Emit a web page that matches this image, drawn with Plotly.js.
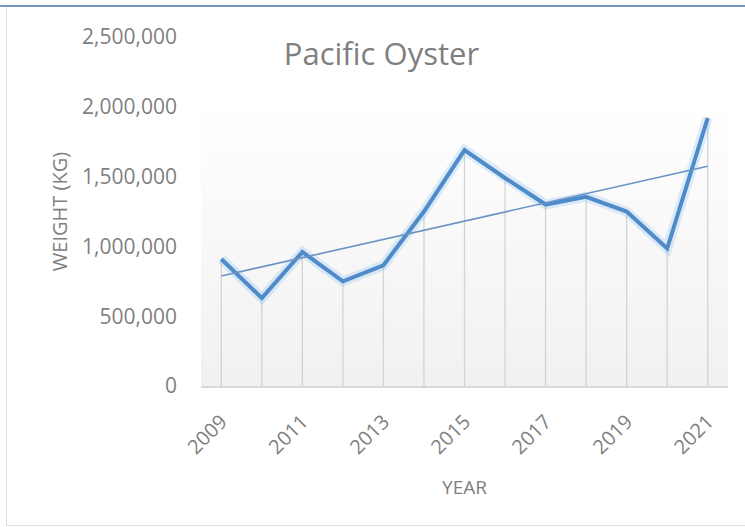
<!DOCTYPE html>
<html>
<head>
<meta charset="utf-8">
<script src="https://cdn.plot.ly/plotly-3.0.1.min.js"></script>
<style>
  body { margin: 0; background: #ffffff; }
  #wrap { position: relative; width: 745px; height: 527px; overflow: hidden; }
  #topbar { position: absolute; left: 0; top: 5px; width: 745px; height: 2px; background: #7896bd; }
  #frame { position: absolute; left: 6px; top: 7px; width: 745px; height: 518px;
           border-left: 1px solid #dcdcdc; border-bottom: 1px solid #e2e2e2; }
  #plotbg { position: absolute; left: 201px; top: 37px; width: 527px; height: 349px;
            background: linear-gradient(to bottom, #ffffff 0%, #ffffff 18%, #f1f1f1 100%); }
  #plotDiv { position: absolute; left: 0; top: 0; width: 745px; height: 527px; }
</style>
</head>
<body>
<div id="wrap">
  <div id="topbar"></div>
  <div id="frame"></div>
  <div id="plotbg"></div>
  <div id="plotDiv"></div>
</div>
<script>
// Pacific oyster harvest weight per year (kg)
const years = [2009, 2010, 2011, 2012, 2013, 2014, 2015, 2016, 2017, 2018, 2019, 2020, 2021];
const weights = [910000, 630000, 960000, 750000, 865000, 1250000, 1690000,
                 1490000, 1300000, 1355000, 1250000, 985000, 1920000];
const yTicks = [0, 500000, 1000000, 1500000, 2000000, 2500000];
const xTicks = [2009, 2011, 2013, 2015, 2017, 2019, 2021];

// Linear trendline (least squares), like Excel's
function linearFit(xs, ys) {
  let n = xs.length;
  let mx = xs.reduce((a, b) => a + b, 0) / n;
  let my = ys.reduce((a, b) => a + b, 0) / n;
  let sxy = 0, sxx = 0;
  for (let i = 0; i < n; i++) {
    sxy += (xs[i] - mx) * (ys[i] - my);
    sxx += (xs[i] - mx) ** 2;
  }
  let slope = sxy / sxx;
  return xs.map((x) => my + slope * (x - mx));
}
const trend = linearFit(years, weights);

const lineBlue = "#4f8bc9";
const grayText = "#7f7f7f";
const font = "'Open Sans', sans-serif";

let traces = [
  // drop lines from each point to the axis
  {
    x: years,
    y: weights,
    type: "scatter",
    mode: "markers",
    marker: { size: 1, opacity: 0 },
    error_y: {
      type: "data",
      symmetric: false,
      array: weights.map(() => 0),
      arrayminus: weights,
      width: 0,
      thickness: 1.3,
      color: "#d3d3d3",
    },
    hoverinfo: "skip",
    showlegend: false,
  },
  // soft glow behind the series line
  {
    x: years,
    y: weights,
    type: "scatter",
    mode: "lines",
    line: { color: "rgba(120,185,240,0.25)", width: 10 },
    hoverinfo: "skip",
    showlegend: false,
  },
  {
    x: years,
    y: weights,
    type: "scatter",
    mode: "lines",
    line: { color: lineBlue, width: 4 },
    name: "Pacific Oyster",
    showlegend: false,
  },
  {
    x: years,
    y: trend,
    type: "scatter",
    mode: "lines",
    line: { color: "#6a92c4", width: 1.6 },
    name: "Linear trend",
    showlegend: false,
  },
];

let layout = {
  width: 745,
  height: 527,
  paper_bgcolor: "rgba(0,0,0,0)",
  plot_bgcolor: "rgba(0,0,0,0)",
  margin: { l: 201, r: 17, t: 37, b: 141 },
  font: { family: font, color: grayText },
  title: {
    text: "Pacific Oyster",
    font: { family: font, size: 31, color: grayText },
    x: 0.512,
    xanchor: "center",
    y: 0.898,
    yanchor: "middle",
  },
  xaxis: {
    range: [2008.5, 2021.5],
    tickmode: "array",
    tickvals: xTicks,
    ticktext: xTicks.map(String),
    tickangle: -45,
    tickfont: { family: font, size: 20, color: grayText },
    ticklabelstandoff: 14,
    showgrid: false,
    zeroline: false,
    showline: true,
    linecolor: "#d9d9d9",
    linewidth: 2,
    title: {
      text: "YEAR",
      font: { family: font, size: 19, color: grayText },
      standoff: 22,
    },
    fixedrange: true,
  },
  yaxis: {
    range: [0, 2500000],
    tickmode: "array",
    tickvals: yTicks,
    tickformat: ",d",
    tickfont: { family: font, size: 21, color: grayText },
    ticklabelstandoff: 23,
    showgrid: false,
    zeroline: false,
    showline: false,
    title: {
      text: "WEIGHT (KG)",
      font: { family: font, size: 20, color: grayText },
      standoff: 9,
    },
    fixedrange: true,
  },
  showlegend: false,
};

Plotly.newPlot("plotDiv", traces, layout, { displayModeBar: false, staticPlot: true });
</script>
</body>
</html>
